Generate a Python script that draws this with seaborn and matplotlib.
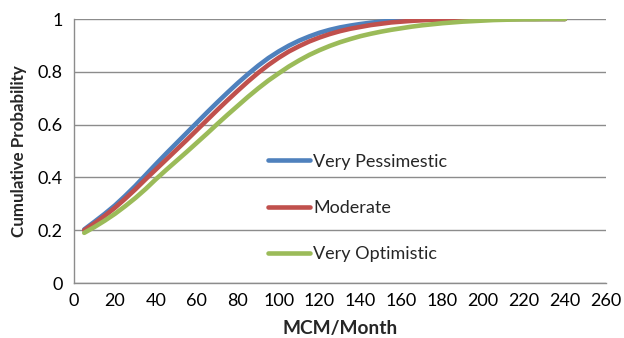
import numpy as np
import pandas as pd
import matplotlib
matplotlib.use("Agg")
import matplotlib.pyplot as plt
import seaborn as sns

# Data
x_vals = list(range(5, 241, 5))
very_pessimistic = [0.203, 0.232, 0.262, 0.294, 0.33, 0.368, 0.409, 0.45, 0.49, 0.529,
                    0.568, 0.607, 0.646, 0.684, 0.721, 0.757, 0.791, 0.823, 0.852, 0.877,
                    0.899, 0.918, 0.934, 0.948, 0.959, 0.968, 0.975, 0.981, 0.986, 0.99,
                    0.993, 0.995, 0.997, 0.998, 0.999, 0.999, 1.0, 1.0, 1.0, 1.0,
                    1.0, 1.0, 1.0, 1.0, 1.0, 1.0, 1.0, 1.0]
moderate = [0.2, 0.226, 0.254, 0.285, 0.319, 0.355, 0.393, 0.43, 0.467, 0.504,
            0.541, 0.579, 0.617, 0.655, 0.692, 0.728, 0.763, 0.796, 0.826, 0.853,
            0.877, 0.897, 0.915, 0.93, 0.943, 0.954, 0.963, 0.97, 0.977, 0.982,
            0.987, 0.99, 0.993, 0.995, 0.997, 0.998, 0.999, 0.999, 1.0, 1.0,
            1.0, 1.0, 1.0, 1.0, 1.0, 1.0, 1.0, 1.0]
very_optimistic = [0.19, 0.212, 0.236, 0.262, 0.291, 0.322, 0.356, 0.393, 0.428, 0.462,
                   0.496, 0.531, 0.566, 0.602, 0.637, 0.671, 0.705, 0.737, 0.767, 0.794,
                   0.82, 0.843, 0.864, 0.882, 0.898, 0.912, 0.924, 0.935, 0.944, 0.952,
                   0.959, 0.965, 0.971, 0.976, 0.98, 0.984, 0.987, 0.99, 0.992, 0.994,
                   0.996, 0.997, 0.998, 0.999, 0.999, 1.0, 1.0, 1.0]
series_names = ["Very Pessimestic", "Moderate", "Very Optimistic"]
colors = ["#4F81BD", "#C0504D", "#9BBB59"]
x_ticks = list(range(0, 261, 20))
y_ticks = [0, 0.2, 0.4, 0.6, 0.8, 1]
y_ticklabels = ["0", "0.2", "0.4", "0.6", "0.8", "1"]

df = pd.DataFrame({
    "MCM/Month": x_vals * 3,
    "Cumulative Probability": very_pessimistic + moderate + very_optimistic,
    "Scenario": [series_names[0]] * len(x_vals) + [series_names[1]] * len(x_vals)
                + [series_names[2]] * len(x_vals),
})

sns.set_style("white")
plt.rcParams["font.family"] = ["Lato", "DejaVu Sans"]

fig = plt.figure(figsize=(6.24, 3.38), dpi=100)
ax = fig.add_axes([74 / 624, 1 - 283 / 338, 532 / 624, 264 / 338])

sns.lineplot(data=df, x="MCM/Month", y="Cumulative Probability", hue="Scenario",
             palette=colors, hue_order=series_names, linewidth=3.3, ax=ax,
             legend=True)
for line in ax.get_lines():
    line.set_solid_capstyle("round")
    line.set_solid_joinstyle("round")

grid_color = "#8C8C8C"
ax.set_xlim(0, 260)
ax.set_ylim(0, 1)
ax.set_xticks(x_ticks)
ax.set_yticks(y_ticks)
ax.set_yticklabels(y_ticklabels)
ax.yaxis.grid(True, color=grid_color, linewidth=1.0)
ax.xaxis.grid(False)
ax.set_axisbelow(True)
for s in ["top", "right"]:
    ax.spines[s].set_visible(False)
for s in ["left", "bottom"]:
    ax.spines[s].set_color(grid_color)
    ax.spines[s].set_linewidth(1.0)
ax.tick_params(axis="both", length=0, labelsize=13, colors="black")
ax.tick_params(axis="y", pad=8)
ax.tick_params(axis="x", pad=7)

ax.set_xlabel("MCM/Month", fontsize=13.8, fontweight="bold", labelpad=8)
ax.set_ylabel("Cumulative Probability", fontsize=12.2, fontweight="bold", labelpad=8)

leg = ax.legend(loc="upper left", bbox_to_anchor=(0.365, 0.49), frameon=False,
                fontsize=13, handlelength=2.3, handletextpad=0.2, labelspacing=1.68,
                borderpad=0, borderaxespad=0)
for line in leg.get_lines():
    line.set_linewidth(3.3)

fig.savefig("out.png", dpi=100)
